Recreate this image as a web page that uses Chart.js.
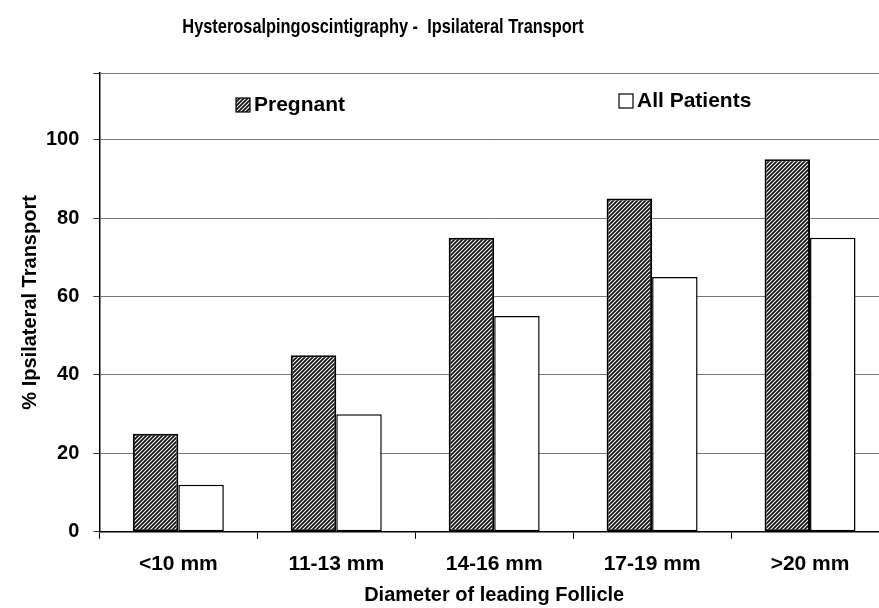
<!DOCTYPE html>
<html>
<head>
<meta charset="utf-8">
<script src="https://cdn.jsdelivr.net/npm/chart.js@4/dist/chart.umd.min.js"></script>
<style>
  html, body { margin: 0; padding: 0; background: #fff; overflow: hidden; }
  canvas { display: block; }
</style>
</head>
<body>
<canvas id="chart" width="890" height="608"></canvas>
<script>
const categories = ["<10 mm", "11-13 mm", "14-16 mm", "17-19 mm", ">20 mm"];
const pregnant = [25, 45, 75, 85, 95];
const allPatients = [12, 30, 55, 65, 75];
const seriesNames = ["Pregnant", "All Patients"];
const yTicks = [0, 20, 40, 60, 80, 100];

const FONT = "'Liberation Sans', Arial, sans-serif";

// black fill with thin white "/" stripes
function hatch() {
  const c = document.createElement("canvas");
  c.width = 4;
  c.height = 4;
  const g = c.getContext("2d");
  g.fillStyle = "#111";
  g.fillRect(0, 0, 4, 4);
  g.strokeStyle = "#fff";
  g.lineWidth = 1.1;
  g.beginPath();
  g.moveTo(-1, 5); g.lineTo(5, -1);
  g.moveTo(-1, 1); g.lineTo(1, -1);
  g.moveTo(3, 5); g.lineTo(5, 3);
  g.stroke();
  return g.createPattern(c, "repeat");
}
const hatchFill = hatch();

// title sits left of centre in the original and uses a narrow face,
// so it is drawn by hand and squeezed sideways
const titlePlugin = {
  id: "titleText",
  afterDraw(chart, args, opts) {
    const ctx = chart.ctx;
    ctx.save();
    ctx.fillStyle = "#000";
    ctx.font = "bold 21px " + FONT;
    ctx.textAlign = "center";
    ctx.textBaseline = "middle";
    ctx.scale(opts.squeeze, 1);
    ctx.fillText(opts.text, opts.x / opts.squeeze, opts.y);
    ctx.restore();
  }
};

// legend entries are spread apart inside the plot
const legendPlugin = {
  id: "spreadLegend",
  afterDraw(chart, args, opts) {
    const ctx = chart.ctx;
    ctx.save();
    ctx.font = "bold 21px " + FONT;
    ctx.textBaseline = "middle";
    chart.data.datasets.forEach((ds, i) => {
      const p = opts.items[i];
      ctx.fillStyle = ds.backgroundColor;
      ctx.fillRect(p.x, p.y - 7, 14, 14);
      ctx.strokeStyle = "#000";
      ctx.lineWidth = 1.2;
      ctx.strokeRect(p.x, p.y - 7, 14, 14);
      ctx.fillStyle = "#000";
      ctx.fillText(ds.label, p.x + 18, p.y);
    });
    ctx.restore();
  }
};

new Chart(document.getElementById("chart"), {
  type: "bar",
  data: {
    labels: categories,
    datasets: [
      {
        label: seriesNames[0],
        data: pregnant,
        backgroundColor: hatchFill,
        borderColor: "#000",
        borderWidth: 2,
        borderSkipped: false,
        categoryPercentage: 0.576,
        barPercentage: 1
      },
      {
        label: seriesNames[1],
        data: allPatients,
        backgroundColor: "#fff",
        borderColor: "#000",
        borderWidth: 1.5,
        borderSkipped: false,
        categoryPercentage: 0.576,
        barPercentage: 1
      }
    ]
  },
  plugins: [titlePlugin, legendPlugin],
  options: {
    responsive: false,
    animation: false,
    layout: { padding: { top: 73, left: 8, right: 1, bottom: 1 } },
    plugins: {
      legend: { display: false },
      tooltip: { enabled: false },
      titleText: {
        text: "Hysterosalpingoscintigraphy -  Ipsilateral Transport",
        x: 383,
        y: 27,
        squeeze: 0.78
      },
      spreadLegend: {
        items: [{ x: 236, y: 105 }, { x: 619, y: 101 }]
      }
    },
    scales: {
      x: {
        grid: {
          offset: true,
          drawOnChartArea: false,
          color: "#000",
          tickLength: 7
        },
        border: { color: "#000", width: 1.5 },
        ticks: {
          color: "#000",
          padding: 13,
          maxRotation: 0,
          font: { family: FONT, size: 21, weight: "bold" }
        },
        title: {
          display: true,
          text: "Diameter of leading Follicle",
          color: "#000",
          padding: { top: -7, bottom: 0 },
          font: { family: FONT, size: 20, weight: "bold" }
        }
      },
      y: {
        min: 0,
        max: 117,
        afterBuildTicks: (axis) => {
          axis.ticks = yTicks.concat([117]).map((v) => ({ value: v }));
        },
        grid: {
          color: "#777",
          lineWidth: 1,
          tickLength: 6,
          tickColor: "#333"
        },
        border: { color: "#000", width: 1.5 },
        ticks: {
          color: "#000",
          padding: 14,
          callback: (v) => (yTicks.includes(v) ? v : ""),
          font: { family: FONT, size: 20, weight: "bold" }
        },
        title: {
          display: true,
          text: "% Ipsilateral Transport",
          color: "#000",
          padding: { top: 10, bottom: -10 },
          font: { family: FONT, size: 20, weight: "bold" }
        }
      }
    }
  }
});
</script>
</body>
</html>
